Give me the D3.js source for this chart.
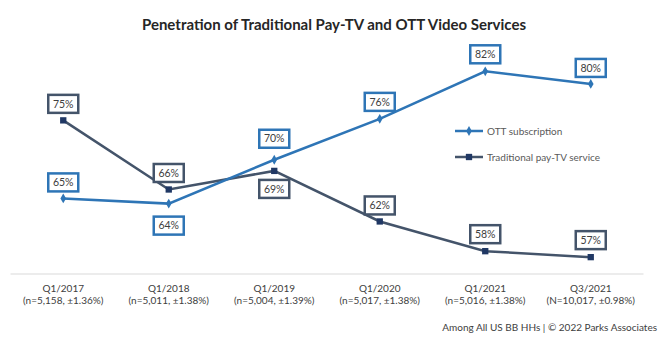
<!DOCTYPE html>
<html>
<head>
<meta charset="utf-8">
<script src="https://cdn.jsdelivr.net/npm/d3@7"></script>
<style>
  html, body { margin: 0; padding: 0; background: #ffffff; }
  svg { display: block; font-family: Lato, "Open Sans", sans-serif; }
</style>
</head>
<body>
<svg id="chart" width="664" height="339"></svg>
<script>
// ---- data ----
const categories = ["Q1/2017", "Q1/2018", "Q1/2019", "Q1/2020", "Q1/2021", "Q3/2021"];
const sampleLabels = ["(n=5,158, \u00b11.36%)", "(n=5,011, \u00b11.38%)", "(n=5,004, \u00b11.39%)",
                      "(n=5,017, \u00b11.38%)", "(n=5,016, \u00b11.38%)", "(N=10,017, \u00b10.98%)"];
const ottValues = [64.9, 64.2, 70.1, 75.6, 82.0, 80.3];
const payTvValues = [75.4, 66.1, 68.6, 61.8, 57.8, 57.0];
const seriesNames = ["OTT subscription", "Traditional pay-TV service"];
const titleText = "Penetration of Traditional Pay-TV and OTT Video Services";
const footerText = "Among All US BB HHs | \u00a9 2022 Parks Associates";

// ---- layout ----
const svg = d3.select("#chart");
const axisY = 274;

const x = d3.scalePoint().domain(categories).range([10.5, 643.5]).padding(0.5);
const y = d3.scaleLinear().domain([55, 85]).range([272, 49]);

const OTT_COLOR = "#2E75B6";
const PAY_COLOR = "#44546A";
const PAY_MARK = "#203864";

// title
svg.append("text")
  .attr("x", 334).attr("y", 30)
  .attr("text-anchor", "middle")
  .attr("font-size", 15).attr("font-weight", "bold")
  .attr("fill", "#262626")
  .text(titleText);

// x axis
const xAxis = d3.axisBottom(x).tickSize(0).tickFormat("");
const gx = svg.append("g").attr("transform", `translate(0,${axisY})`).call(xAxis);
gx.select(".domain").attr("stroke", "#D9D9D9").attr("stroke-width", 1.2)
  .attr("d", `M10.5,0H643.5`);

const tickG = svg.append("g");
categories.forEach((c, i) => {
  tickG.append("text").attr("x", x(c)).attr("y", 292)
    .attr("text-anchor", "middle").attr("font-size", 10).attr("fill", "#404040").text(c);
  tickG.append("text").attr("x", x(c)).attr("y", 304)
    .attr("text-anchor", "middle").attr("font-size", 10).attr("fill", "#404040").text(sampleLabels[i]);
});

// lines
const line = d3.line().x((d, i) => x(categories[i])).y(d => y(d));

svg.append("path").datum(payTvValues)
  .attr("d", line).attr("fill", "none").attr("stroke", PAY_COLOR).attr("stroke-width", 2.5);
svg.append("path").datum(ottValues)
  .attr("d", line).attr("fill", "none").attr("stroke", OTT_COLOR).attr("stroke-width", 2.5);

const diamond = d3.symbol().type(d3.symbolDiamond).size(28);
const square = d3.symbol().type(d3.symbolSquare).size(40);

svg.append("g").selectAll("path").data(payTvValues).join("path")
  .attr("d", square)
  .attr("transform", (d, i) => `translate(${x(categories[i])},${y(d)})`)
  .attr("fill", PAY_MARK);
svg.append("g").selectAll("path").data(ottValues).join("path")
  .attr("d", diamond)
  .attr("transform", (d, i) => `translate(${x(categories[i])},${y(d)})`)
  .attr("fill", OTT_COLOR);

// data labels (boxed)
const ottDy = [-16, 22, -21, -17, -17, -16];
const payDy = [-16.5, -16.5, 18, -16, -17, -17];
function drawLabels(values, dys, color) {
  const g = svg.append("g");
  values.forEach((v, i) => {
    const cx = x(categories[i]);
    const cy = y(v) + dys[i];
    g.append("rect").attr("x", cx - 15).attr("y", cy - 9)
      .attr("width", 30).attr("height", 18)
      .attr("fill", "#ffffff").attr("stroke", color).attr("stroke-width", 2.5);
    g.append("text").attr("x", cx).attr("y", cy)
      .attr("dy", "0.35em")
      .attr("text-anchor", "middle").attr("font-size", 10.5).attr("fill", "#404040")
      .text(Math.round(v) + "%");
  });
}
drawLabels(payTvValues, payDy, PAY_COLOR);
drawLabels(ottValues, ottDy, OTT_COLOR);

// legend
const legend = svg.append("g");
[[OTT_COLOR, diamond, OTT_COLOR, 131], [PAY_COLOR, square, PAY_MARK, 157]].forEach((s, i) => {
  const ly = s[3];
  legend.append("line").attr("x1", 455).attr("x2", 483).attr("y1", ly).attr("y2", ly)
    .attr("stroke", s[0]).attr("stroke-width", 2.5);
  legend.append("path").attr("d", s[1]).attr("transform", `translate(469,${ly})`).attr("fill", s[2]);
  legend.append("text").attr("x", 487).attr("y", ly).attr("dy", "0.35em")
    .attr("font-size", 10).attr("fill", "#595959").text(seriesNames[i]);
});

// footer
svg.append("text").attr("x", 657).attr("y", 331)
  .attr("text-anchor", "end").attr("font-size", 10).attr("fill", "#404040")
  .text(footerText);
</script>
</body>
</html>
